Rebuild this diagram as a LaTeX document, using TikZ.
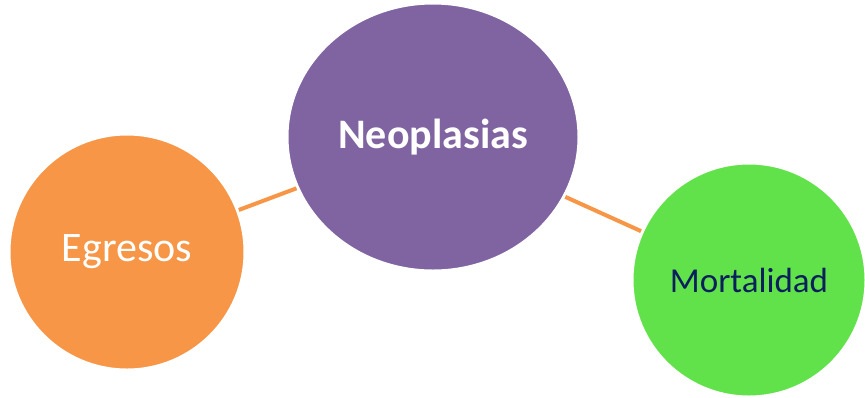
\documentclass[tikz,border=0pt]{standalone}
\usepackage{fontspec}
\setmainfont{Carlito}
\usetikzlibrary{shapes.geometric}
\definecolor{corange}{HTML}{F79646}
\definecolor{cpurple}{HTML}{8064A2}
\definecolor{cgreen}{HTML}{62E24A}
\definecolor{cnavy}{HTML}{0B1F5C}
\tikzset{
  bubble/.style={ellipse, draw=white, line width=3pt, inner sep=0pt},
  link/.style={draw=corange, line width=4pt}
}
\begin{document}
\begin{tikzpicture}[x=1pt,y=-1pt]
\useasboundingbox (0,0) rectangle (865,397);
\fill[white] (0,0) rectangle (865,397);
\node[bubble, fill=corange, minimum width=236pt, minimum height=236pt, text=white,
  font=\fontsize{42}{48}\selectfont] (egr) at (127,252) {Egresos};
\node[bubble, fill=cpurple, minimum width=292pt, minimum height=268pt, text=white,
  font=\fontsize{42}{48}\selectfont\bfseries] (neo) at (433,137) {Neoplasias};
\node[bubble, fill=cgreen, minimum width=234pt, minimum height=234pt, text=cnavy,
  font=\fontsize{35}{42}\selectfont] (mor) at (749,280) {Mortalidad};
\draw[link] (egr) -- (neo);
\draw[link] (neo) -- (mor);
\end{tikzpicture}
\end{document}
